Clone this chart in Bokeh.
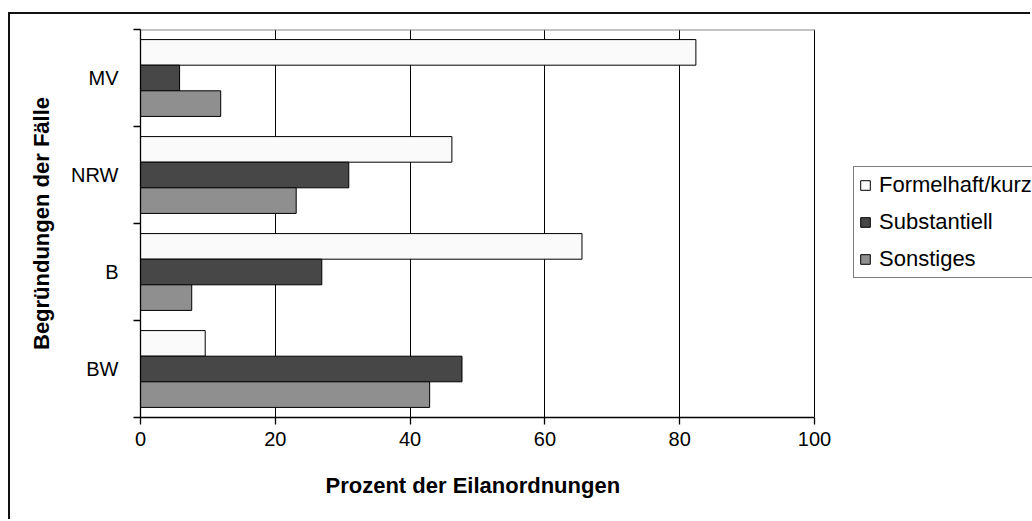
from bokeh.plotting import figure
from bokeh.models import Range1d, FixedTicker, Legend, LegendItem, Title
from bokeh.embed import file_html
from bokeh.resources import INLINE

# ---- data ----
categories = ["BW", "B", "NRW", "MV"]          # bottom to top
series_names = ["Formelhaft/kurz", "Substantiell", "Sonstiges"]
formelhaft = [9.6, 65.5, 46.2, 82.4]
substantiell = [47.7, 26.9, 30.9, 5.8]
sonstiges = [42.9, 7.6, 23.1, 11.9]
x_ticks = [0, 20, 40, 60, 80, 100]
x_title = "Prozent der Eilanordnungen"
y_title = "Begründungen der Fälle"

# ---- layout / styles ----
colors = ["#fafafa", "#474747", "#8f8f8f"]
FONT = "Liberation Sans"
bar_h = 0.264
offsets = [bar_h, 0.0, -bar_h]

W, H = 1022, 507
LEFT, TOP, BOTTOM = 130, 15, 104
AXIS_PX = 674                      # pixel length of the 0..100 axis
frame_w = W - LEFT
x_end = x_ticks[-1] * frame_w / AXIS_PX   # frame extends to the canvas edge (legend lives there)

centers = list(range(1, len(categories) + 1))
bounds = [c - 0.5 for c in centers] + [centers[-1] + 0.5]

p = figure(width=W, height=H, output_backend="svg", toolbar_location=None,
           x_range=Range1d(x_ticks[0], x_end), y_range=Range1d(bounds[0], bounds[-1]),
           min_border_left=LEFT, min_border_right=0, min_border_top=TOP,
           min_border_bottom=BOTTOM)
p.styles = {"border-left": "2px solid #111", "border-top": "2px solid #111",
            "margin-top": "12px", "margin-left": "8px"}

renderers = []
for vals, off, col in zip([formelhaft, substantiell, sonstiges], offsets, colors):
    r = p.hbar(y=[c + off for c in centers], right=vals, left=0, height=bar_h,
               fill_color=col, line_color="black", line_width=1)
    renderers.append(r)

# top border of the plot area (grey) ; right border is the 100 grid line
p.segment(x0=[x_ticks[0]], x1=[x_ticks[-1]], y0=[bounds[-1]], y1=[bounds[-1]],
          line_color="#888888", line_width=2)

p.outline_line_color = None
p.background_fill_color = "white"
p.border_fill_color = "white"

# x axis
p.xaxis.ticker = FixedTicker(ticks=x_ticks)
p.xaxis.bounds = (x_ticks[0], x_ticks[-1])
p.xaxis.major_tick_out = 7
p.xaxis.major_tick_in = 0
p.xaxis.minor_tick_out = 0
p.xaxis.minor_tick_in = 0
p.xaxis.axis_line_color = "black"
p.xaxis.axis_line_width = 1.3
p.xaxis.major_tick_line_color = "black"
p.xaxis.major_tick_line_width = 1.3
p.xaxis.major_label_text_font = FONT
p.xaxis.major_label_text_font_size = "20px"
p.xaxis.major_label_text_color = "black"
p.xaxis.major_label_standoff = 7

p.add_layout(Title(text=x_title, align="left", offset=185, standoff=44,
                   text_font=FONT, text_font_size="22px", text_font_style="bold",
                   text_color="black"), "below")

# y axis
p.yaxis.ticker = FixedTicker(ticks=centers, minor_ticks=bounds)
p.yaxis.major_label_overrides = {c: cat for c, cat in zip(centers, categories)}
p.yaxis.major_tick_out = 0
p.yaxis.major_tick_in = 0
p.yaxis.minor_tick_out = 7
p.yaxis.minor_tick_in = 0
p.yaxis.minor_tick_line_color = "black"
p.yaxis.minor_tick_line_width = 1.3
p.yaxis.axis_line_color = "black"
p.yaxis.axis_line_width = 1.3
p.yaxis.major_label_text_font = FONT
p.yaxis.major_label_text_font_size = "20px"
p.yaxis.major_label_text_color = "black"
p.yaxis.major_label_standoff = 15
p.yaxis.axis_label = y_title
p.yaxis.axis_label_text_font = FONT
p.yaxis.axis_label_text_font_size = "22px"
p.yaxis.axis_label_text_font_style = "bold"
p.yaxis.axis_label_text_color = "black"
p.yaxis.axis_label_standoff = 14

# grid
p.xgrid.ticker = FixedTicker(ticks=x_ticks)
p.xgrid.bounds = (x_ticks[0], x_ticks[-1])
p.xgrid.grid_line_color = "black"
p.xgrid.grid_line_width = 1
p.ygrid.visible = False

legend = Legend(items=[LegendItem(label=n, renderers=[r]) for n, r in zip(series_names, renderers)],
                location=(713, 139), orientation="vertical",
                border_line_color="black", border_line_width=1.5,
                background_fill_color="white", background_fill_alpha=1,
                glyph_width=12, glyph_height=12, label_standoff=8,
                label_text_font=FONT, label_text_font_size="22px",
                label_text_color="black", label_height=25, spacing=11,
                padding=5, margin=0)
p.add_layout(legend, "center")

open("out.html", "w").write(file_html(p, INLINE))
